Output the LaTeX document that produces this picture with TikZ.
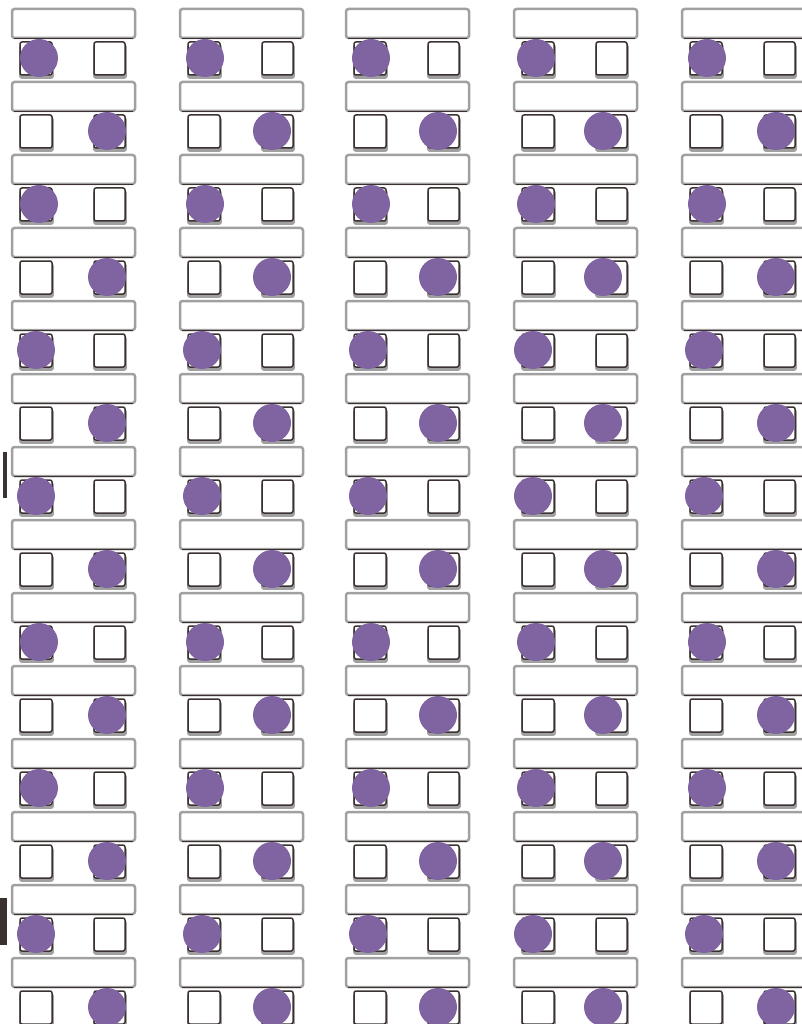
\documentclass[tikz,border=0pt]{standalone}
\definecolor{stud}{HTML}{8064A2}
\definecolor{edge}{HTML}{3B3131}
\definecolor{shade}{HTML}{A0A0A0}
\tikzset{
 desk/.style={draw=shade, line width=2.5pt, rounded corners=2.5pt, fill=white},
 deskline/.style={draw=edge, line width=1.2pt},
 chairshadow/.style={fill=shade, draw=shade, line width=1.8pt, rounded corners=2pt},
 chair/.style={draw=edge, line width=1.5pt, rounded corners=2pt, fill=white},
 student/.style={fill=stud, draw=none},
 bar/.style={fill=edge, draw=none}
}
\begin{document}
\begin{tikzpicture}[x=1pt,y=-1pt]
\useasboundingbox (0,0) rectangle (802,1024);
\foreach \xo/\lo/\ro in {12/27/95, 180/25/92, 346/25/92, 514/22/89, 682/25/94}{
 \foreach \r in {0,...,13}{
   \pgfmathsetmacro{\yt}{9+73*\r}
   \pgfmathsetmacro{\sh}{(\r==4||\r==6||\r==12)?3:0}
   \draw[desk] (\xo,\yt) rectangle ++(123,29);
   \draw[deskline] (\xo+2,\yt+29.5) -- ++(119,0);
   \draw[chairshadow] (\xo+8,\yt+36) rectangle (\xo+41,\yt+69);
   \draw[chair] (\xo+8,\yt+33) rectangle (\xo+40,\yt+66);
   \draw[chairshadow] (\xo+82,\yt+36) rectangle (\xo+114,\yt+69);
   \draw[chair] (\xo+82,\yt+33) rectangle (\xo+113,\yt+66);
   \ifodd\r
     \fill[student] (\xo+\ro,\yt+49) circle (19);
   \else
     \fill[student] (\xo+\lo-\sh,\yt+49) circle (19);
   \fi
 }
}
\fill[bar] (3,452) rectangle (7,498);
\fill[bar] (0,898) rectangle (7,945);
\end{tikzpicture}
\end{document}
